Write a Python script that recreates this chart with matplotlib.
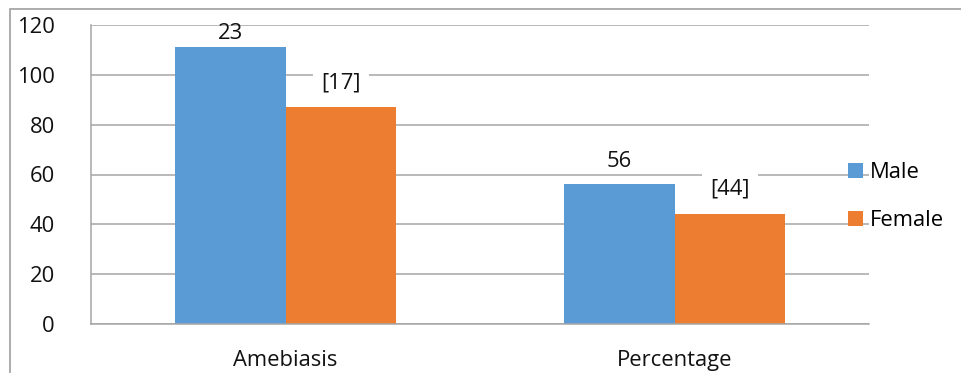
import matplotlib.pyplot as plt
from matplotlib.patches import Rectangle
import numpy as np

categories = ['Amebiasis', 'Percentage']
male = [111, 56]
female = [87, 44]
male_labels = ['23', '56']
female_labels = ['[17]', '[44]']
yticks = [0, 20, 40, 60, 80, 100, 120]

plt.rcParams['font.family'] = ['Open Sans', 'DejaVu Sans']

fig = plt.figure(figsize=(9.61, 3.73), dpi=100)
ax = fig.add_axes([91 / 961, 1 - 324 / 373, 778 / 961, 299 / 373])

x = np.arange(len(categories))
w = 0.285
blue = '#5B9BD5'
orange = '#ED7D31'
grid = '#a6a6a6'
fs = 15.8

ax.bar(x - w / 2, male, w, color=blue, label='Male', zorder=2)
ax.bar(x + w / 2, female, w, color=orange, label='Female', zorder=2)

# data labels (baseline offsets above each bar)
male_off = [3.3, 7]
female_off = [7.7, 7.8]
for i in range(len(categories)):
    ax.text(x[i] - w / 2, male[i] + male_off[i], male_labels[i], ha='center',
            va='baseline', fontsize=fs, color='#111111', zorder=3)
    ax.text(x[i] + w / 2, female[i] + female_off[i], female_labels[i],
            ha='center', va='baseline', fontsize=fs, color='#111111', zorder=1.5,
            bbox=dict(facecolor='white', edgecolor='none', pad=6))

ax.set_xlim(-0.5, 1.5)
ax.set_ylim(0, 120)
ax.set_yticks(yticks)
ax.set_xticks(x)
ax.set_xticklabels(categories)
ax.tick_params(length=0, labelsize=fs, colors='#111111')
ax.tick_params(axis='y', pad=26)
ax.tick_params(axis='x', pad=19)
ax.yaxis.grid(True, color=grid, linewidth=1.1, zorder=0)
ax.set_axisbelow(True)
for side in ['top', 'right']:
    ax.spines[side].set_visible(False)
for side in ['left', 'bottom']:
    ax.spines[side].set_color(grid)
    ax.spines[side].set_linewidth(1.1)

leg = ax.legend(loc='upper left', bbox_to_anchor=(848 / 961, 1 - 162 / 373),
                bbox_transform=fig.transFigure, frameon=False, fontsize=fs,
                handlelength=0.68, handleheight=0.68, handletextpad=0.3,
                labelspacing=1.25, borderpad=0, borderaxespad=0)

# outer chart frame
fig.patches.append(Rectangle((10 / 961, -0.1), 1.0, 1 - 9 / 373 + 0.1,
                             transform=fig.transFigure, fill=False,
                             edgecolor=grid, linewidth=1.3))

fig.savefig('out.png', dpi=100)
